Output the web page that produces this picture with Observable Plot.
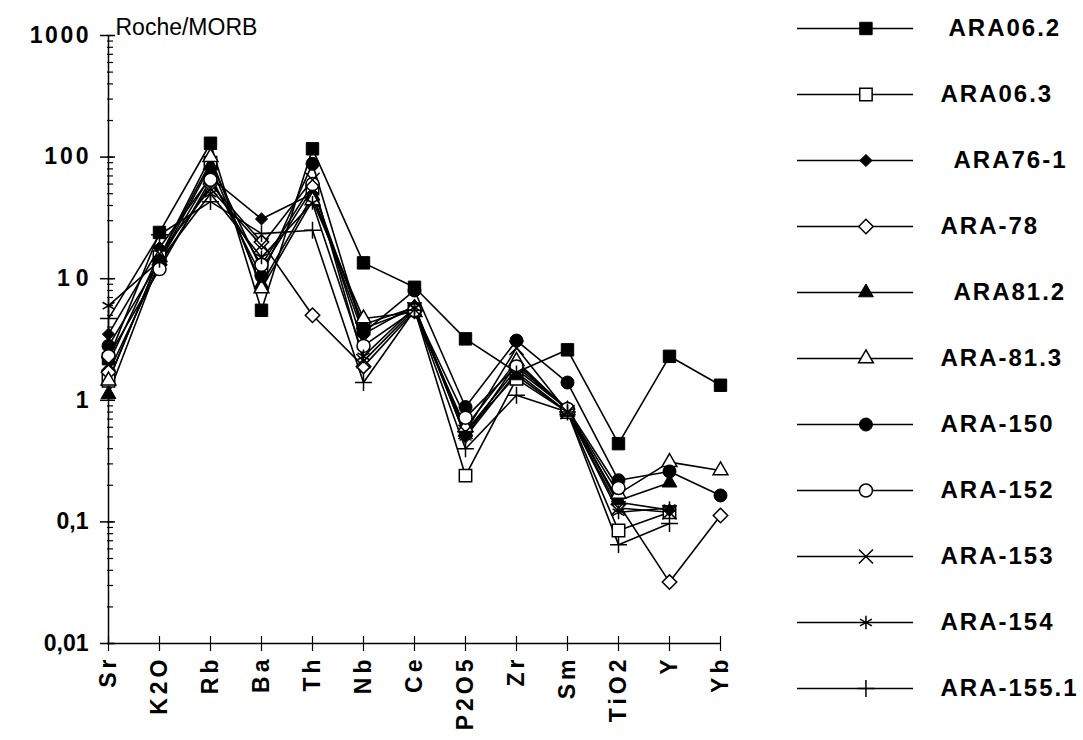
<!DOCTYPE html>
<html>
<head>
<meta charset="utf-8">
<script src="https://cdn.jsdelivr.net/npm/d3@7"></script>
<script src="https://cdn.jsdelivr.net/npm/@observablehq/plot@0.6"></script>
<style>
  html, body { margin: 0; padding: 0; background: #fff; }
  #wrap { display: flex; width: 1083px; height: 740px; font-family: "Liberation Sans", Arial, sans-serif; }
  #wrap svg { display: block; }
</style>
</head>
<body>
<div id="wrap"></div>
<script>
// ---------- data ----------
const categories = ["Sr", "K2O", "Rb", "Ba", "Th", "Nb", "Ce", "P2O5", "Zr", "Sm", "TiO2", "Y", "Yb"];
const seriesNames = ["ARA06.2", "ARA06.3", "ARA76-1", "ARA-78", "ARA81.2", "ARA-81.3", "ARA-150", "ARA-152", "ARA-153", "ARA-154", "ARA-155.1"];

//                 Sr    K2O  Rb   Ba    Th   Nb    Ce   P2O5  Zr   Sm    TiO2   Y      Yb
const ARA06_2   = [2.2,  24,  130, 5.5,  117, 13.5, 8.5, 3.2,  1.7, 2.6,  0.44,  2.3,   1.33];
const ARA06_3   = [1.45, 15,  90,  12,   55,  3.9,  5.6, 0.24, 1.5, 0.8,  0.085, 0.12,  null];
const ARA76_1   = [3.5,  18,  68,  31,   50,  3.5,  6.0, 0.5,  2.0, 0.85, 0.145, 0.125, null];
const ARA_78    = [1.7,  13,  60,  20,   5.0, 1.9,  5.4, 0.55, 1.8, 0.85, 0.14,  0.032, 0.113];
const ARA81_2   = [1.12, 14,  85,  9,    48,  4.2,  5.8, 0.55, 1.6, 0.8,  0.15,  0.21,  null];
const ARA_81_3  = [1.45, 15,  100, 8.3,  44,  4.7,  5.3, 0.6,  2.1, 0.83, 0.17,  0.31,  0.265];
const ARA_150   = [2.8,  14,  70,  10.5, 88,  3.6,  8.0, 0.88, 3.1, 1.4,  0.22,  0.26,  0.165];
const ARA_152   = [2.3,  12,  65,  13,   60,  2.8,  5.5, 0.72, 1.9, 0.85, 0.19,  null,  null];
const ARA_153   = [2.0,  16,  55,  18.8, 65,  2.1,  5.6, 0.55, 2.7, 0.8,  0.13,  0.12,  null];
const ARA_154   = [6.0,  14,  50,  15,   42,  2.3,  5.8, 0.5,  1.7, 0.8,  0.12,  0.13,  null];
const ARA_155_1 = [4.7,  23,  43,  23.5, 25,  1.4,  5.5, 0.4,  1.1, 0.8,  0.065, 0.097, null];

const seriesValues = [ARA06_2, ARA06_3, ARA76_1, ARA_78, ARA81_2, ARA_81_3, ARA_150, ARA_152, ARA_153, ARA_154, ARA_155_1];

const yTickValues = [0.01, 0.1, 1, 10, 100, 1000];
const yTickLabels = ["0,01", "0,1", "1", "10", "100", "1000"];
const titleText = "Roche/MORB";

// ---------- styles (kept apart from data) ----------
const markerStyle = {
  "ARA06.2":   {symbol: "square",   kind: "filled", r: 7},
  "ARA06.3":   {symbol: "square",   kind: "open",   r: 7},
  "ARA76-1":   {symbol: "diamond2", kind: "filled", r: 5.5},
  "ARA-78":    {symbol: "diamond2", kind: "open",   r: 6.5},
  "ARA81.2":   {symbol: "triangle", kind: "filled", r: 5.5},
  "ARA-81.3":  {symbol: "triangle", kind: "open",   r: 5.5},
  "ARA-150":   {symbol: "circle",   kind: "filled", r: 6.5},
  "ARA-152":   {symbol: "circle",   kind: "open",   r: 6.5},
  "ARA-153":   {symbol: "times",    kind: "stroke", r: 6.5},
  "ARA-154":   {symbol: "asterisk", kind: "stroke", r: 6.5},
  "ARA-155.1": {symbol: "plus",     kind: "stroke", r: 5.5}
};
const legendIndent = {"ARA06.2": 8, "ARA76-1": 13, "ARA81.2": 13};
const ySpacing = {"1000": 2.5, "100": 3, "10": 6};
const FONT = '"Liberation Sans", Arial, sans-serif';

// ---------- build table ----------
const rows = [];
seriesNames.forEach((name, i) => {
  categories.forEach((c, j) => rows.push({series: name, element: c, value: seriesValues[i][j]}));
});
const points = rows.filter(d => d.value != null);

function markerMark(data, name, opts) {
  const st = markerStyle[name];
  const base = {symbol: st.symbol, r: st.r, ...opts};
  if (st.kind === "filled") return Plot.dot(data, {...base, fill: "black", stroke: "black", strokeWidth: 1});
  if (st.kind === "open") return Plot.dot(data, {...base, fill: "white", stroke: "black", strokeWidth: 1.5});
  return Plot.dot(data, {...base, fill: "none", stroke: "black", strokeWidth: 1.5});
}

const dotMarks = seriesNames.map(name =>
  markerMark(points.filter(d => d.series === name), name, {x: "element", y: "value"})
);

// ---------- main chart ----------
const chart = Plot.plot({
  width: 770,
  height: 740,
  marginLeft: 107,
  marginRight: 49,
  marginTop: 35,
  marginBottom: 97,
  style: {fontFamily: FONT, fontSize: "22px", color: "black", background: "white", overflow: "visible"},
  x: {type: "point", domain: categories, padding: 0, label: null},
  y: {type: "log", domain: [0.01, 1000], label: null},
  marks: [
    Plot.ruleX([categories[0]], {stroke: "black", strokeWidth: 1.5}),
    Plot.ruleY([yTickValues[0]], {stroke: "black", strokeWidth: 1.5}),
    Plot.axisY({ticks: 20, tickSize: -6, tickFormat: () => "", strokeWidth: 1.2, label: null}),
    Plot.axisY({ticks: yTickValues, tickSize: -8, tickFormat: () => "", strokeWidth: 1.5, label: null}),
    Plot.axisY({ticks: yTickValues, tickSize: 7, tickPadding: 12, strokeWidth: 1.5, label: null,
      tickFormat: d => yTickLabels[yTickValues.indexOf(d)], fontWeight: "bold", fontSize: 23}),
    Plot.axisX({tickSize: 8, tickPadding: 4, tickRotate: -90, fontWeight: "bold", fontSize: 23, strokeWidth: 1.2, label: null}),
    Plot.axisX({tickSize: -7, tickFormat: () => "", strokeWidth: 1.2, label: null}),
    Plot.line(rows, {x: "element", y: "value", z: "series", stroke: "black", strokeWidth: 1.6}),
    ...dotMarks,
    Plot.text([titleText], {frameAnchor: "top-left", dx: 8, dy: -8, textAnchor: "start", lineAnchor: "middle", fontSize: 23})
  ]
});

d3.select(chart).selectAll('g[aria-label="y-axis tick label"] text').each(function() {
  const t = d3.select(this).text();
  if (ySpacing[t]) d3.select(this).attr("letter-spacing", ySpacing[t] + "px").attr("dx", ySpacing[t]);
});
d3.select(chart).selectAll('g[aria-label="x-axis tick label"] text').attr("letter-spacing", "4px");

// ---------- legend ----------
const legendDots = seriesNames.map(name =>
  markerMark([name], name, {x: () => 0.59, y: d => d})
);
const legendTexts = seriesNames.map(name =>
  Plot.text([name], {y: d => d, x: () => 1, dx: 27 + (legendIndent[name] || 0), text: d => d,
    textAnchor: "start", fontSize: 24, fontWeight: "bold"})
);
const legend = Plot.plot({
  width: 313,
  height: 740,
  margin: 0,
  axis: null,
  style: {fontFamily: FONT, fontSize: "24px", color: "black", background: "white", letterSpacing: "2px"},
  x: {domain: [0, 1], range: [27, 143]},
  y: {type: "point", domain: seriesNames, range: [28, 688], padding: 0},
  marks: [
    Plot.ruleY(seriesNames, {y: d => d, x1: 0, x2: 1, stroke: "black", strokeWidth: 1.3}),
    ...legendDots,
    ...legendTexts
  ]
});

document.getElementById("wrap").append(chart, legend);
</script>
</body>
</html>
